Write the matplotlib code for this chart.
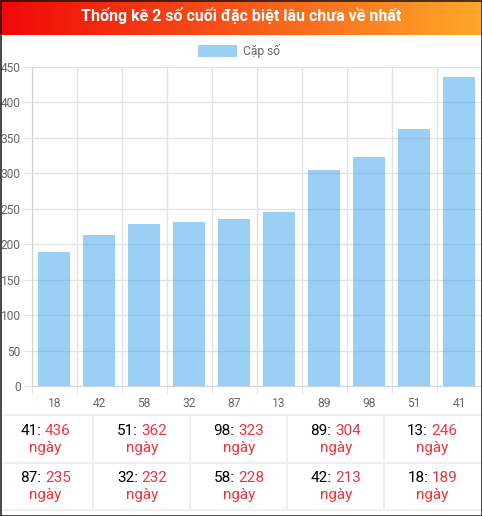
import matplotlib
matplotlib.use("Agg")
import matplotlib.pyplot as plt
import numpy as np
from matplotlib.patches import Rectangle

plt.rcParams['font.family'] = ['Roboto', 'DejaVu Sans']

title = "Thống kê 2 số cuối đặc biệt lâu chưa về nhất"
legend_label = "Cặp số"
pairs = ['18', '42', '58', '32', '87', '13', '89', '98', '51', '41']
days = [189, 213, 228, 232, 235, 246, 304, 323, 362, 436]
day_word = "ngày"

W, H = 482, 516
PT = 0.72  # px -> pt at dpi 100
bar_color = (54 / 255, 162 / 255, 235 / 255, 0.5)
grid_color = '#e2e2e2'
text_gray = '#666666'
red = '#ee3340'

fig = plt.figure(figsize=(W / 100, H / 100), dpi=100)


def px_axes(x0, y0, x1, y1):
    return fig.add_axes([x0 / W, 1 - y1 / H, (x1 - x0) / W, (y1 - y0) / H])


# header with gradient
hdr = px_axes(0, 0, W, 35)
g = np.linspace(0, 1, 256)[:, None]
c0 = np.array([240, 8, 8]) / 255
c1 = np.array([255, 168, 42]) / 255
img = c0 * (1 - g) + c1 * g
hdr.imshow(img[None, :, :], aspect='auto', extent=[0, 1, 0, 1])
hdr.set_xlim(0, 1)
hdr.set_ylim(0, 1)
hdr.axis('off')

# bar chart
ax = px_axes(31.7, 67, 481.5, 386)
x = np.arange(len(pairs))
ax.bar(x, days, width=0.72, color=bar_color, zorder=2)
ax.set_xlim(-0.5, len(pairs) - 0.5)
ax.set_ylim(0, 450)
ax.set_yticks(range(0, 451, 50))
ax.set_xticks(x)
ax.set_xticklabels(pairs)
ax.set_xticks(np.arange(-0.5, len(pairs), 1), minor=True)
ax.grid(True, which='minor', axis='x', color=grid_color, lw=1, zorder=0)
ax.grid(True, which='major', axis='y', color=grid_color, lw=1, zorder=0)
ax.set_axisbelow(True)
ax.tick_params(axis='x', which='major', length=0, pad=11 * PT,
               labelsize=12 * PT, labelcolor=text_gray)
ax.tick_params(axis='x', which='minor', length=8 * PT, color=grid_color)
ax.tick_params(axis='y', length=8 * PT, color=grid_color, pad=3 * PT,
               labelsize=12 * PT, labelcolor=text_gray)
for s in ['top', 'right']:
    ax.spines[s].set_visible(False)
for s in ['left', 'bottom']:
    ax.spines[s].set_color('#d4d4d4')

# overlay in pixel coordinates
ov = fig.add_axes([0, 0, 1, 1])
ov.set_xlim(0, W)
ov.set_ylim(H, 0)
ov.axis('off')
ov.patch.set_alpha(0)

ov.text(W / 2, 21, title, color='white', fontsize=16 * PT, fontweight='bold',
        ha='center', va='baseline')

# legend
ov.add_patch(Rectangle((198, 45), 39, 12, facecolor=bar_color, edgecolor='none'))
ov.text(243, 51, legend_label, color=text_gray, fontsize=12 * PT,
        ha='left', va='center')

# table grid
line_kw = dict(color='#eeeeee', lw=2 * PT)
for yy in [415, 462.5, 510]:
    ov.plot([0, W], [yy, yy], **line_kw)
for xx in [93, 190, 287, 384]:
    ov.plot([xx, xx], [415, 510], **line_kw)

renderer = fig.canvas.get_renderer()
order = list(zip(pairs, days))[::-1]
fs = 15.3 * PT
for i, (p, d) in enumerate(order):
    row, col = divmod(i, 5)
    cx = 45.5 + 96.75 * col
    base = 435 + 47.5 * row
    full = ov.text(0, base, f"{p}: {d}", fontsize=fs, alpha=0)
    num = ov.text(0, base, str(d), fontsize=fs, alpha=0)
    wf = full.get_window_extent(renderer).width
    wn = num.get_window_extent(renderer).width
    full.remove()
    num.remove()
    ov.text(cx - wf / 2, base, f"{p}:", fontsize=fs, color='black',
            ha='left', va='baseline')
    ov.text(cx + wf / 2 - wn, base, str(d), fontsize=fs, color=red,
            ha='left', va='baseline')
    ov.text(cx, base + 16.8, day_word, fontsize=fs, color=red,
            ha='center', va='baseline')

# outer border
ov.add_patch(Rectangle((0.5, 0.5), W - 1, H - 1, facecolor='none',
                       edgecolor='#111111', lw=1.5 * PT, zorder=10))

fig.savefig('out.png', dpi=100)
